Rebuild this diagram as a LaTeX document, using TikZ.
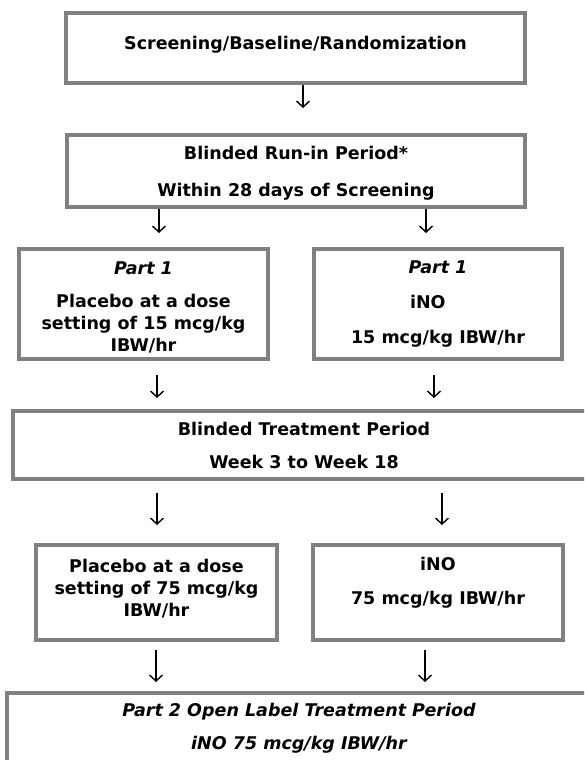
\documentclass[tikz,border=0pt]{standalone}
\usepackage{fontspec}
\setmainfont{DejaVu Sans}
\usetikzlibrary{arrows.meta}
\definecolor{boxgray}{RGB}{128,128,128}

\begin{document}
\begin{tikzpicture}[x=1pt,y=-1pt,
    box/.style={draw=boxgray,line width=4pt,fill=white,align=center,inner sep=0pt,
      font=\fontsize{17.5}{22}\selectfont\bfseries},
    flow/.style={-{Straight Barb[length=6pt,width=13pt]},line width=1.4pt}]
    \useasboundingbox (0,0) rectangle (584,760);
    \clip (0,0) rectangle (584,760);

    % Run-in
    \node[box,minimum width=459,minimum height=70,text depth=10pt] (scr) at (295.5,48)
      {Screening/Baseline/Randomization};
    \node[box,minimum width=458,minimum height=72,text depth=0pt] (run) at (296,171)
      {Blinded Run-in Period*\\[15pt]Within 28 days of Screening};

    % Part 1 arms
    \node[box,minimum width=249,minimum height=110] (plc1) at (143.5,304)
      {\rule{0pt}{19pt}\itshape Part 1\\[11pt]Placebo at a dose\\setting of 15 mcg/kg\\IBW/hr};
    \node[box,minimum width=248,minimum height=110] (ino1) at (438,304)
      {\itshape Part 1\\[13pt]\makebox[56pt][l]{iNO}\\[13pt]15 mcg/kg IBW/hr};

    % Treatment period
    \node[box,minimum width=582,minimum height=68] (trt) at (304,445)
      {Blinded Treatment Period\\[11pt]Week 3 to Week 18};
    \node[box,minimum width=241,minimum height=95,text depth=8.5pt] (plc2) at (156.5,592.5)
      {Placebo at a dose\\setting of 75 mcg/kg\\IBW/hr};
    \node[box,minimum width=250,minimum height=95,text depth=23pt] (ino2) at (438,592.5)
      {iNO\\[12pt]75 mcg/kg IBW/hr};

    % Part 2
    \node[box,minimum width=584,minimum height=82,text depth=15pt] (opn) at (299,734)
      {\itshape Part 2 Open Label Treatment Period\\[11pt]\itshape iNO 75 mcg/kg IBW/hr};

    % Arrow tips
    \coordinate (t1) at (303,108);
    \coordinate (t2l) at (159,233);
    \coordinate (t2r) at (426,233);
    \coordinate (t3l) at (157,398);
    \coordinate (t3r) at (434,398);
    \coordinate (t4l) at (157,525);
    \coordinate (t4r) at (442,525);
    \coordinate (t5l) at (156,682);
    \coordinate (t5r) at (425,682);

    % Arrows
    \draw[flow] (scr.south -| t1) -- (t1);
    \draw[flow] (run.south -| t2l) -- (t2l);
    \draw[flow] (run.south -| t2r) -- (t2r);
    \draw[flow,shorten <=14pt] (plc1.south -| t3l) -- (t3l);
    \draw[flow,shorten <=14pt] (ino1.south -| t3r) -- (t3r);
    \draw[flow,shorten <=12pt] (trt.south -| t4l) -- (t4l);
    \draw[flow,shorten <=12pt] (trt.south -| t4r) -- (t4r);
    \draw[flow,shorten <=8pt] (plc2.south -| t5l) -- (t5l);
    \draw[flow,shorten <=8pt] (ino2.south -| t5r) -- (t5r);
\end{tikzpicture}
\end{document}
